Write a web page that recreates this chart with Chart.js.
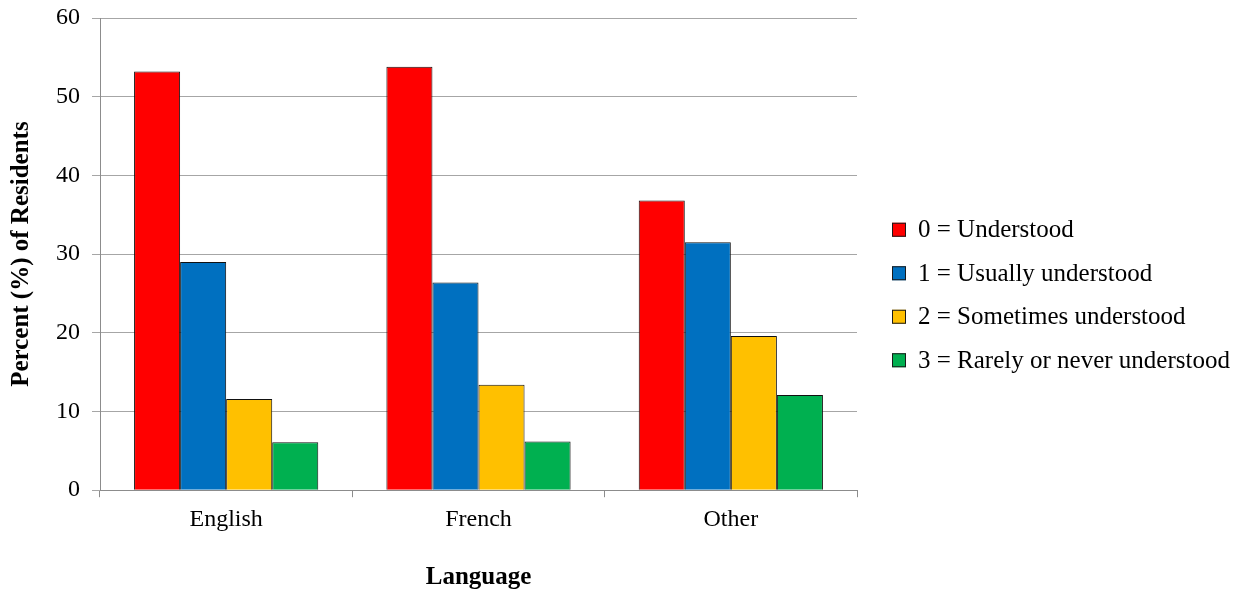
<!DOCTYPE html>
<html>
<head>
<meta charset="utf-8">
<script src="https://cdn.jsdelivr.net/npm/chart.js@4"></script>
<style>
  html, body { margin: 0; padding: 0; background: #fff; }
  #wrap { width: 1246px; height: 590px; }
</style>
</head>
<body>
<div id="wrap"><canvas id="c" width="1246" height="590"></canvas></div>
<script>
// Categories and series values
const languages = ['English', 'French', 'Other'];
const seriesLabels = [
  '0 = Understood',
  '1 = Usually understood',
  '2 = Sometimes understood',
  '3 = Rarely or never understood'
];
const understood          = [53.2, 53.8, 36.8];
const usuallyUnderstood   = [29.0, 26.4, 31.5];
const sometimesUnderstood = [11.6, 13.4, 19.6];
const rarelyUnderstood    = [6.1, 6.2, 12.1];
const yTicks = [0, 10, 20, 30, 40, 50, 60];

const seriesColors = ['#ff0000', '#0070c0', '#ffc000', '#00b050'];
const seriesValues = [understood, usuallyUnderstood, sometimesUnderstood, rarelyUnderstood];

const serif = "'Liberation Serif', 'Times New Roman', serif";

// Legend drawn to the right of the plot, centred vertically on the canvas
const sideLegend = {
  id: 'sideLegend',
  afterDraw(chart) {
    const ctx = chart.ctx;
    const n = chart.data.datasets.length;
    const step = 43.5;
    const midY = chart.height / 2;
    const boxX = 892, box = 14, textX = 918;
    ctx.save();
    ctx.font = '25px ' + serif;
    ctx.textBaseline = 'middle';
    chart.data.datasets.forEach((ds, i) => {
      const y = midY + (i - (n - 1) / 2) * step;
      ctx.fillStyle = ds.backgroundColor;
      ctx.fillRect(boxX, y - box / 2, box, box);
      ctx.strokeStyle = '#1a1a1a';
      ctx.lineWidth = 1;
      ctx.strokeRect(boxX + 0.5, y - box / 2 + 0.5, box - 1, box - 1);
      ctx.fillStyle = '#000';
      ctx.fillText(ds.label, textX, y + 1);
    });
    ctx.restore();
  }
};

new Chart(document.getElementById('c'), {
  type: 'bar',
  data: {
    labels: languages,
    datasets: seriesLabels.map((label, i) => ({
      label,
      data: seriesValues[i],
      backgroundColor: seriesColors[i],
      borderColor: '#111',
      borderWidth: 1,
      categoryPercentage: 0.73,
      barPercentage: 1.0
    }))
  },
  options: {
    responsive: false,
    animation: false,
    devicePixelRatio: 1,
    layout: { padding: { left: 7, right: 389, top: 18, bottom: 0 } },
    plugins: {
      legend: { display: false },
      tooltip: { enabled: false }
    },
    scales: {
      x: {
        grid: {
          drawOnChartArea: false,
          drawTicks: true,
          tickLength: 7,
          color: '#8c8c8c'
        },
        border: { color: '#8c8c8c' },
        ticks: {
          color: '#000',
          padding: 8,
          font: { family: serif, size: 24 }
        },
        title: {
          display: true,
          text: 'Language',
          color: '#000',
          font: { family: serif, size: 25, weight: 'bold', lineHeight: 1 },
          padding: { top: 23, bottom: 0 }
        }
      },
      y: {
        min: 0,
        max: 60,
        afterBuildTicks(scale) {
          scale.ticks = yTicks.map(v => ({ value: v }));
        },
        grid: {
          color: '#a6a6a6',
          lineWidth: 1,
          drawTicks: true,
          tickLength: 8
        },
        border: { color: '#8c8c8c' },
        ticks: {
          color: '#000',
          padding: 12,
          font: { family: serif, size: 24, lineHeight: 0.5 }
        },
        title: {
          display: true,
          text: 'Percent (%) of Residents',
          color: '#000',
          font: { family: serif, size: 25, weight: 'bold' },
          padding: { top: 0, bottom: 7 }
        }
      }
    }
  },
  plugins: [sideLegend]
});
</script>
</body>
</html>
